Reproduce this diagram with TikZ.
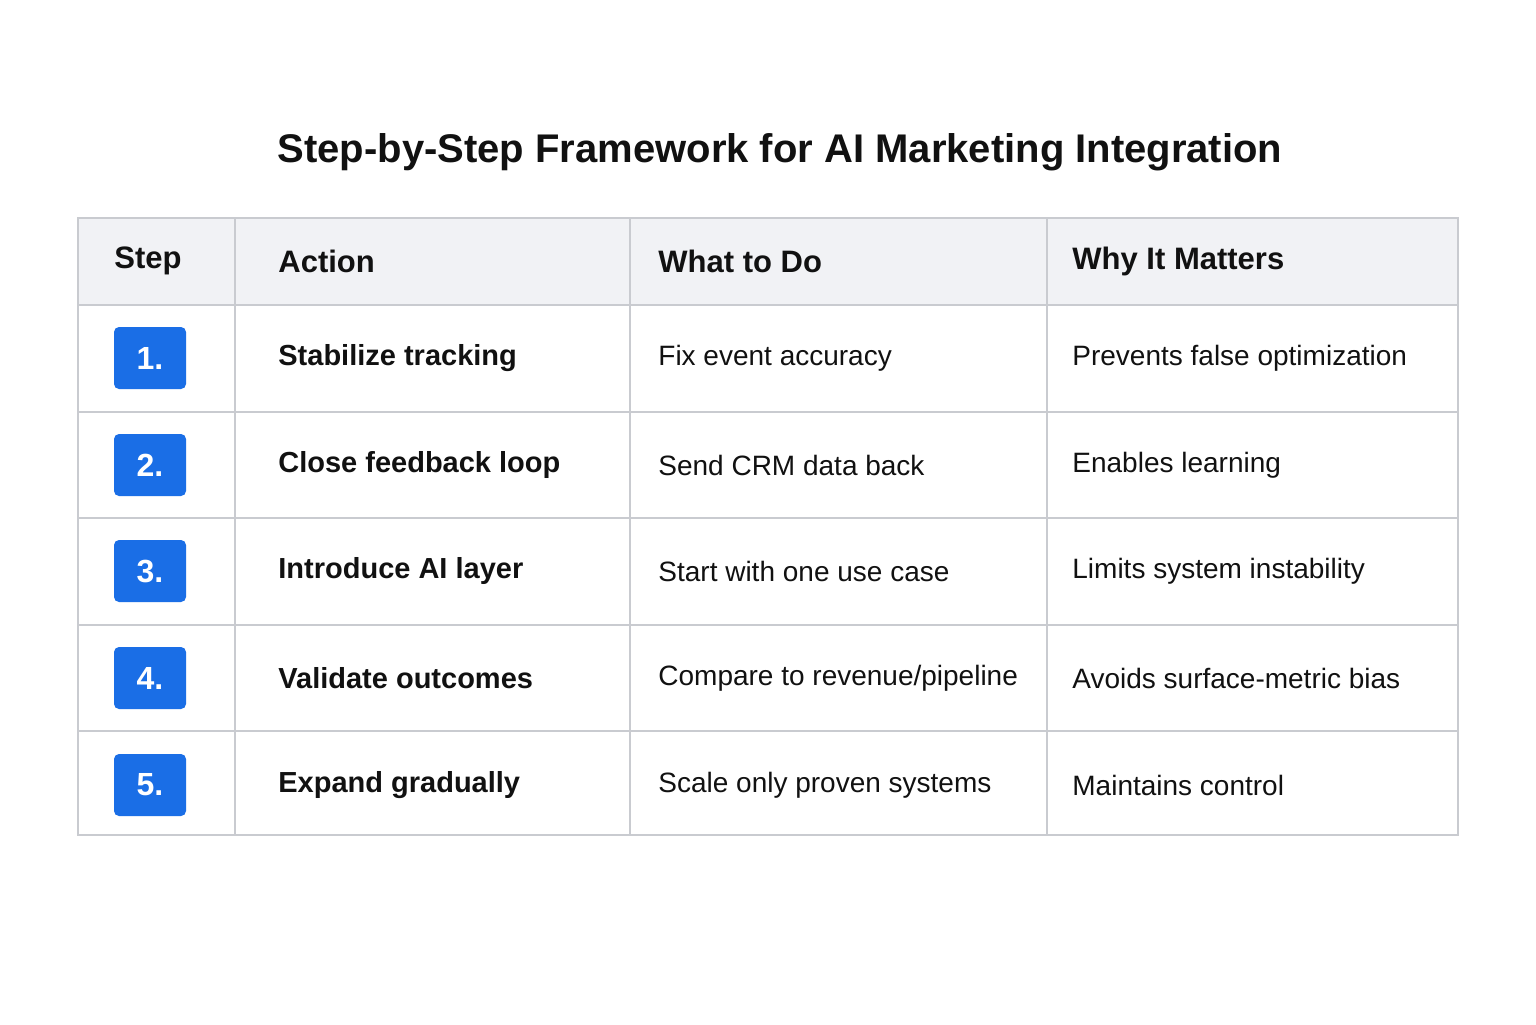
\documentclass[tikz,border=0pt]{standalone}
\usepackage{fontspec}
\setmainfont{Liberation Sans}
\definecolor{bord}{HTML}{C9CBD0}
\definecolor{headbg}{HTML}{F1F2F5}
\definecolor{badge}{HTML}{1A6EE6}
\definecolor{txt}{HTML}{111111}
\begin{document}
\begin{tikzpicture}[x=0.5pt,y=-0.5pt,
  cell/.style={anchor=west,text=txt,font=\fontsize{14}{16}\selectfont,inner sep=0},
  hcell/.style={anchor=west,text=txt,font=\fontsize{15.5}{18}\selectfont\bfseries,inner sep=0},
  acell/.style={anchor=west,text=txt,font=\fontsize{14.5}{17}\selectfont\bfseries,inner sep=0},
  badgebox/.style={fill=badge,rounded corners=2.5pt,minimum width=36pt,minimum height=31pt,text=white,font=\fontsize{16}{18}\selectfont\bfseries,inner sep=0},
  grid/.style={draw=bord,line width=1pt}]
\useasboundingbox (0,0) rectangle (1536,1024);
\fill[white] (0,0) rectangle (1536,1024);
\node[text=txt,font=\fontsize{20}{24}\selectfont\bfseries] (title) at (780,152) {Step-by-Step Framework for AI Marketing Integration};
\fill[headbg] (78,218) rectangle (1458,305);
\foreach \y in {305,412,518,625,731}{\draw[grid] (78,\y) -- (1458,\y);}
\foreach \x in {235,630,1047}{\draw[grid] (\x,218) -- (\x,835);}
\draw[grid] (78,218) rectangle (1458,835);
\node[hcell] (h1) at (114,261) {Step};
\node[hcell] (h2) at (278,261) {Action};
\node[hcell] (h3) at (658,261) {What to Do};
\node[hcell] (h4) at (1072,261) {Why It Matters};
\foreach \n/\y/\a/\b/\c in {1/358/Stabilize tracking/Fix event accuracy/Prevents false optimization,
  2/465/Close feedback loop/Send CRM data back/Enables learning,
  3/571/Introduce AI layer/Start with one use case/Limits system instability,
  4/678/Validate outcomes/Compare to revenue\slash pipeline/Avoids surface-metric bias,
  5/785/Expand gradually/Scale only proven systems/Maintains control}{
  \node[badgebox] (b\n) at (150,\y) {\n.};
  \node[acell] (a\n) at (278,\y) {\a};
  \node[cell] (w\n) at (658,\y) {\b};
  \node[cell] (m\n) at (1072,\y) {\c};
}
\end{tikzpicture}
\end{document}
